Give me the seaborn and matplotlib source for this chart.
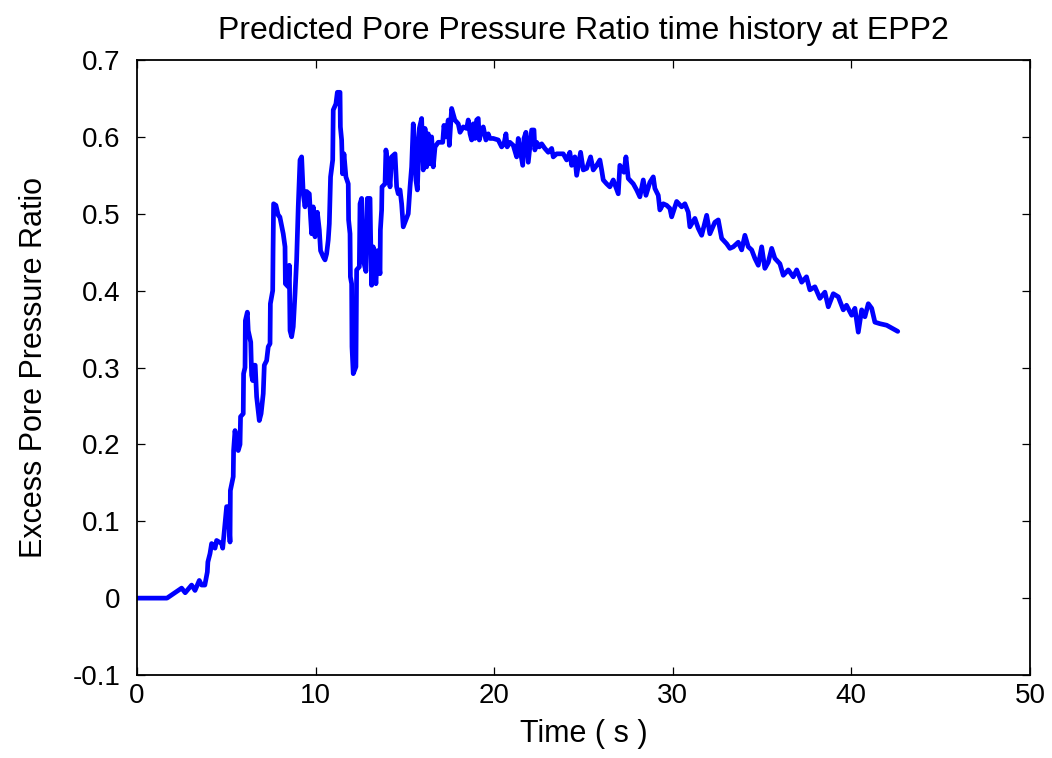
import matplotlib
matplotlib.use("Agg")
import matplotlib.pyplot as plt
import seaborn as sns
import pandas as pd

# Predicted excess pore pressure ratio at EPP2 (time in s)
time_s = [
    0, 1.68, 2.5, 2.7, 3.06, 3.25, 3.49, 3.62, 3.8, 3.94, 3.97, 4.09, 4.18, 4.37, 4.46, 4.74, 4.8,
    4.93, 5.02, 5.1, 5.21, 5.23, 5.39, 5.41, 5.49, 5.58, 5.67, 5.77, 5.8, 5.95, 5.97, 6.05, 6.07,
    6.18, 6.23, 6.37, 6.42, 6.48, 6.55, 6.62, 6.7, 6.85, 6.95, 7.07, 7.13, 7.26, 7.35, 7.45, 7.47,
    7.6, 7.62, 7.65, 7.78, 7.91,
    8.0, 8.19, 8.29, 8.31, 8.47, 8.53, 8.57, 8.66, 8.75, 8.85, 8.94, 9.03, 9.13, 9.22, 9.31, 9.41,
    9.5, 9.65, 9.72, 9.78, 9.87, 9.97, 10.1, 10.21, 10.28, 10.43, 10.53, 10.62, 10.71, 10.77, 10.84,
    10.96, 10.99, 11.14, 11.22, 11.37, 11.39, 11.46, 11.51, 11.59, 11.7, 11.83, 11.85, 11.93, 11.95,
    12.02, 12.04, 12.11, 12.26, 12.3, 12.45, 12.49, 12.58, 12.67, 12.82, 12.9, 13.05, 13.08, 13.14,
    13.23, 13.38, 13.46, 13.61, 13.63, 13.7, 13.72, 13.89, 13.94, 14.07, 14.17, 14.26, 14.45, 14.54,
    14.63, 14.73, 14.82, 14.91, 15.06, 15.19, 15.29, 15.38, 15.47, 15.57, 15.62, 15.7, 15.81, 15.94,
    16.03, 16.13, 16.22, 16.31, 16.41, 16.5, 16.59, 16.69, 16.87, 17.12, 17.19, 17.3, 17.43, 17.49,
    17.62,
    17.8, 17.99, 18.09, 18.27, 18.46, 18.55, 18.65, 18.74, 18.83, 18.93, 19.02, 19.11, 19.17, 19.3,
    19.39, 19.54, 19.67, 19.76, 19.95, 20.23, 20.42, 20.55, 20.66, 20.73, 20.88, 21.07, 21.26, 21.35,
    21.48, 21.6, 21.67, 21.78, 21.91, 22.1, 22.23, 22.28, 22.38, 22.53, 22.66, 22.84, 23.03, 23.22,
    23.31, 23.5, 23.87, 24.06, 24.24, 24.34, 24.52, 24.62, 24.84, 24.99, 25.18, 25.4, 25.55, 25.74,
    25.92, 26.02, 26.11, 26.3, 26.48, 26.67, 26.95, 27.04, 27.27, 27.38, 27.51,
    27.79, 27.98, 28.16, 28.35, 28.5, 28.72, 28.91, 29.0, 29.19, 29.28, 29.47, 29.66, 29.84, 29.94,
    30.22, 30.5, 30.68, 30.87, 30.96, 31.24, 31.43, 31.62, 31.9, 32.08, 32.36, 32.55, 32.74, 33.02,
    33.2, 33.39, 33.67, 33.86, 34.04, 34.23, 34.42, 34.6, 34.79, 34.98, 35.16, 35.35, 35.54, 35.72,
    36.0, 36.19, 36.47, 36.75, 36.94, 37.22, 37.49, 37.68, 37.96, 38.24, 38.52, 38.71, 38.99, 39.27,
    39.55, 39.73, 40.02, 40.2, 40.39, 40.58, 40.76, 40.95, 41.14, 41.32, 41.6, 41.98, 42.44, 42.6,
]

pore_ratio = [
    0, 0, 0.013, 0.007, 0.017, 0.010, 0.023, 0.017, 0.017, 0.034, 0.047, 0.058, 0.071, 0.065, 0.075,
    0.071, 0.065, 0.097, 0.119, 0.119, 0.073, 0.14, 0.158, 0.192, 0.218, 0.2, 0.192, 0.2, 0.236, 0.24,
    0.292, 0.30, 0.361, 0.372, 0.348, 0.333, 0.29, 0.283, 0.303, 0.303, 0.262, 0.231, 0.24, 0.266,
    0.303, 0.309, 0.327, 0.331, 0.383, 0.4, 0.452, 0.513, 0.511, 0.498,
    0.496, 0.474, 0.457, 0.409, 0.405, 0.433, 0.348, 0.34, 0.353, 0.396, 0.44, 0.509, 0.57, 0.574,
    0.526, 0.509, 0.529, 0.526, 0.496, 0.474, 0.509, 0.47, 0.502, 0.479, 0.452, 0.444, 0.44, 0.448,
    0.466, 0.487, 0.548, 0.57, 0.635, 0.643, 0.658, 0.658, 0.613, 0.596, 0.552, 0.578, 0.548, 0.539,
    0.492, 0.474, 0.418, 0.409, 0.327, 0.292, 0.301, 0.427, 0.431, 0.513, 0.52, 0.44, 0.425, 0.52,
    0.52, 0.474, 0.407, 0.457, 0.409, 0.452, 0.422, 0.479, 0.505, 0.535, 0.539, 0.583, 0.561, 0.535,
    0.574, 0.578, 0.535, 0.526, 0.531, 0.513, 0.483, 0.492, 0.5, 0.535, 0.561, 0.617, 0.587, 0.544,
    0.531, 0.611, 0.624, 0.557, 0.611, 0.561, 0.604, 0.565, 0.6, 0.561, 0.587, 0.593, 0.593, 0.615,
    0.6, 0.622, 0.589, 0.637,
    0.622, 0.617, 0.606, 0.613, 0.611, 0.622, 0.604, 0.596, 0.617, 0.598, 0.622, 0.624, 0.596, 0.609,
    0.613, 0.596, 0.604, 0.598, 0.598, 0.596, 0.587, 0.591, 0.604, 0.587, 0.593, 0.589, 0.574, 0.598,
    0.58, 0.563, 0.598, 0.606, 0.567, 0.609, 0.609, 0.583, 0.593, 0.587, 0.591, 0.585, 0.58, 0.585,
    0.574, 0.578, 0.578, 0.57, 0.58, 0.563, 0.574, 0.55, 0.58, 0.557, 0.559, 0.574, 0.557, 0.563,
    0.57, 0.557, 0.544, 0.539, 0.535, 0.544, 0.526, 0.563, 0.554, 0.574, 0.546,
    0.539, 0.531, 0.522, 0.544, 0.524, 0.541, 0.548, 0.533, 0.524, 0.505, 0.513, 0.511, 0.507, 0.496,
    0.516, 0.509, 0.513, 0.502, 0.483, 0.494, 0.481, 0.472, 0.498, 0.474, 0.489, 0.492, 0.468, 0.461,
    0.455, 0.457, 0.463, 0.453, 0.472, 0.457, 0.453, 0.442, 0.433, 0.457, 0.429, 0.437, 0.455, 0.442,
    0.435, 0.42, 0.427, 0.418, 0.427, 0.411, 0.418, 0.401, 0.405, 0.39, 0.398, 0.379, 0.396, 0.392,
    0.375, 0.381, 0.368, 0.377, 0.346, 0.375, 0.366, 0.383, 0.377, 0.359, 0.357, 0.355, 0.349, 0.347,
]

x_ticks = [0, 10, 20, 30, 40, 50]
y_ticks = [-0.1, 0, 0.1, 0.2, 0.3, 0.4, 0.5, 0.6, 0.7]
y_tick_labels = ["-0.1", "0", "0.1", "0.2", "0.3", "0.4", "0.5", "0.6", "0.7"]

df = pd.DataFrame({"Time": time_s, "Ratio": pore_ratio})

sns.set_theme(style="white")
plt.rcParams["font.family"] = ["Liberation Sans", "DejaVu Sans"]

fig = plt.figure(figsize=(10.52, 7.58), dpi=100)
ax = fig.add_axes([0.1302, 0.1095, 0.8488, 0.8113])

sns.lineplot(data=df, x="Time", y="Ratio", sort=False, estimator=None,
             color="#0000ff", linewidth=3.4, ax=ax)

ax.set_xlim(0, 50)
ax.set_ylim(-0.1, 0.7)
ax.set_xticks(x_ticks)
ax.set_xticklabels([str(v) for v in x_ticks])
ax.set_yticks(y_ticks)
ax.set_yticklabels(y_tick_labels)

for side in ["left", "right", "top", "bottom"]:
    ax.spines[side].set_visible(True)
    ax.spines[side].set_color("black")
    ax.spines[side].set_linewidth(1.3)

ax.tick_params(axis="both", which="major", direction="in", length=6, width=0.9,
               color="black", labelsize=20, labelcolor="black",
               top=True, right=True, bottom=True, left=True)
ax.tick_params(axis="y", pad=12)
ax.tick_params(axis="x", pad=6)

ax.set_xlabel("Time ( s )", fontsize=22, color="black", labelpad=7)
ax.set_ylabel("Excess Pore Pressure Ratio", fontsize=22, color="black", labelpad=17)
ax.set_title("Predicted Pore Pressure Ratio time history at EPP2", fontsize=23,
             color="black", pad=15)

fig.savefig("out.png", dpi=100, facecolor="white")
